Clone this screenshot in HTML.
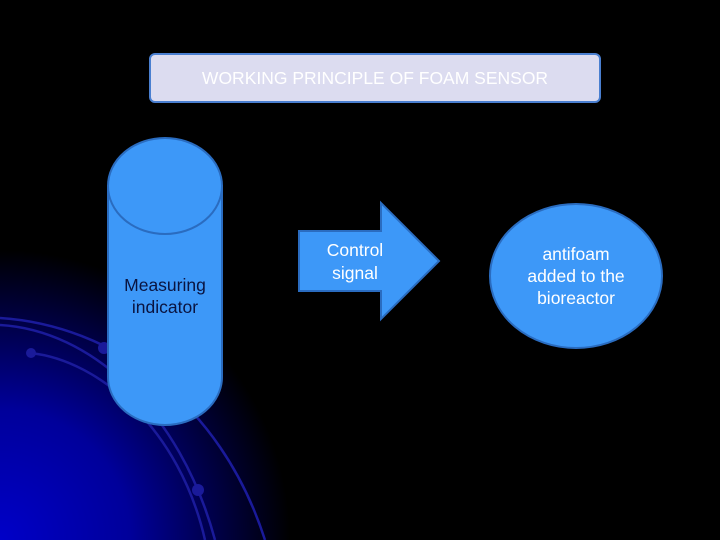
<!DOCTYPE html>
<html><head><style>
html,body{margin:0;padding:0;background:#000;}
svg{display:block;}
</style></head><body>
<svg width="720" height="540" viewBox="0 0 720 540" xmlns="http://www.w3.org/2000/svg">
<defs>
<radialGradient id="g" cx="0" cy="540" r="290" gradientUnits="userSpaceOnUse">
<stop offset="0" stop-color="#0000c8"/>
<stop offset="0.45" stop-color="#00009a"/>
<stop offset="1" stop-color="#000000"/>
</radialGradient>
</defs>
<rect width="720" height="540" fill="#000"/>
<rect width="720" height="540" fill="url(#g)"/>
<g fill="none" stroke="#1a1a9a" stroke-width="2.5">
<path d="M0 318 C110 325 220 400 265 540"/>
<path d="M0 325 C90 330 180 410 215 540"/>
<path d="M30 353 C100 360 180 430 205 540"/>
</g>
<g fill="#1a1a9a">
<circle cx="31" cy="353" r="5"/><circle cx="104" cy="348" r="6"/><circle cx="198" cy="490" r="6"/>
</g>
<rect x="150" y="54" width="450" height="48" rx="5" fill="#dcdcf0" stroke="#4a7fd0" stroke-width="2"/>
<text x="375" y="84" text-anchor="middle" font-family="Liberation Sans, sans-serif" font-size="17.5" fill="#fff">WORKING PRINCIPLE OF FOAM SENSOR</text>
<path d="M108 186 L108 377 A57 48 0 0 0 222 377 L222 186 Z" fill="#3d98f8" stroke="#2a6cc0" stroke-width="2"/>
<ellipse cx="165" cy="186" rx="57" ry="48" fill="#3d98f8" stroke="#2a6cc0" stroke-width="2"/>
<text x="165" y="291" text-anchor="middle" font-family="Liberation Sans, sans-serif" font-size="17.5" fill="#0a1440">Measuring</text>
<text x="165" y="313" text-anchor="middle" font-family="Liberation Sans, sans-serif" font-size="17.5" fill="#0a1440">indicator</text>
<path d="M299 231 L381 231 L381 203 L439 261 L381 319 L381 291 L299 291 Z" fill="#3d98f8" stroke="#2a6cc0" stroke-width="2"/>
<text x="355" y="256" text-anchor="middle" font-family="Liberation Sans, sans-serif" font-size="17.5" fill="#fff">Control</text>
<text x="355" y="279" text-anchor="middle" font-family="Liberation Sans, sans-serif" font-size="17.5" fill="#fff">signal</text>
<ellipse cx="576" cy="276" rx="86" ry="72" fill="#3d98f8" stroke="#2a6cc0" stroke-width="2"/>
<text x="576" y="260" text-anchor="middle" font-family="Liberation Sans, sans-serif" font-size="17.5" fill="#fff">antifoam</text>
<text x="576" y="282" text-anchor="middle" font-family="Liberation Sans, sans-serif" font-size="17.5" fill="#fff">added to the</text>
<text x="576" y="304" text-anchor="middle" font-family="Liberation Sans, sans-serif" font-size="17.5" fill="#fff">bioreactor</text>
</svg>
</body></html>
